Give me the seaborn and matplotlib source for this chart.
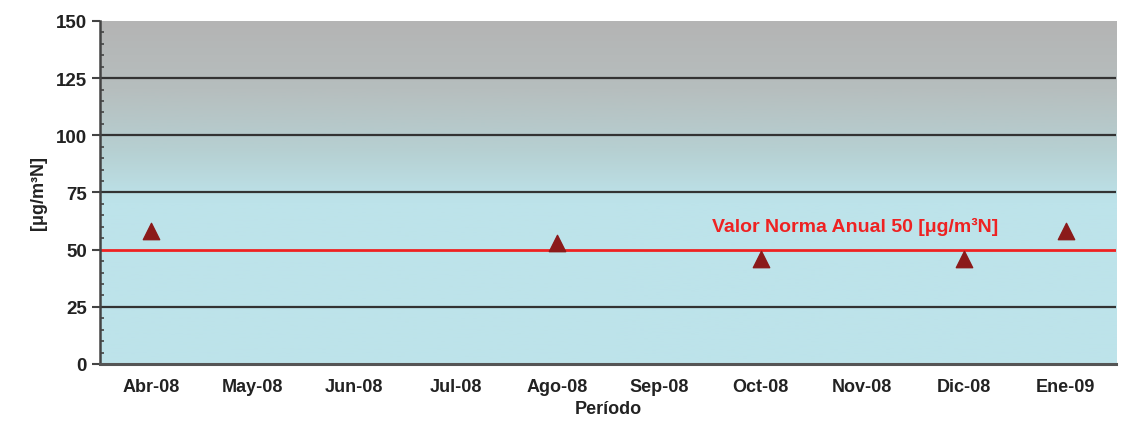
import numpy as np
import pandas as pd
import matplotlib
matplotlib.use("Agg")
import matplotlib.pyplot as plt
import seaborn as sns
from matplotlib.colors import LinearSegmentedColormap
from matplotlib.ticker import MultipleLocator

months = ["Abr-08", "May-08", "Jun-08", "Jul-08", "Ago-08", "Sep-08",
          "Oct-08", "Nov-08", "Dic-08", "Ene-09"]
values = [58, None, None, None, 53, None, 46, None, 46, 58]
norma = 50
yticks = [0, 25, 50, 75, 100, 125, 150]

sns.set_theme(style="white")
plt.rcParams['font.family'] = ['Liberation Sans', 'DejaVu Sans']

df = pd.DataFrame({"mes": months, "valor": values})
df["pos"] = np.arange(len(months))
df = df.dropna()

fig = plt.figure(figsize=(11.39, 4.39), dpi=100)
ax = fig.add_axes([0.0878, 0.1686, 0.8924, 0.7814])

n = len(months)
ax.set_xlim(-0.5, n - 0.5)
ax.set_ylim(0, 150)

# gradient background
cmap = LinearSegmentedColormap.from_list(
    "bg", [(0.0, "#bde3ea"), (0.47, "#bde3ea"), (0.62, "#b6d0d2"),
           (0.8, "#b6bebe"), (1.0, "#b4b4b4")])
grad = np.linspace(0, 1, 256).reshape(-1, 1)
ax.imshow(grad, extent=[-0.5, n - 0.5, 0, 150], origin="lower",
          aspect="auto", cmap=cmap, zorder=0)

for y in yticks[1:-1]:
    if y != norma:
        ax.axhline(y, color="#333333", lw=1.6, zorder=1)
ax.axhline(norma, color="#ee2222", lw=2.0, zorder=2)

sns.scatterplot(data=df, x="pos", y="valor", marker="^", s=140,
                color="#8b1a1a", edgecolor="#8b1a1a", ax=ax, zorder=3)

ax.text(6.93, 56.5, "Valor Norma Anual 50 [μg/m³N]", color="#ee2222",
        fontsize=14, fontweight="bold", ha="center", va="bottom")

ax.set_yticks(yticks)
ax.yaxis.set_minor_locator(MultipleLocator(5))
ax.set_yticklabels([str(t) for t in yticks], fontsize=13.5, fontweight="bold", color="#222222")
ax.set_xticks(np.arange(n))
ax.set_xticklabels(months, fontsize=13, fontweight="bold", color="#222222")
ax.set_xticks(np.arange(n + 1) - 0.5, minor=True)
ax.tick_params(axis="x", which="major", length=0, pad=10)
ax.tick_params(axis="x", which="minor", length=5, width=1.5, color="#444444", direction="out")
ax.tick_params(axis="y", which="major", length=6, width=1.5, color="#444444", direction="out", left=True)
ax.tick_params(axis="y", which="minor", length=3, width=1.2, color="#444444", direction="in", left=True)

for side in ["top", "right"]:
    ax.spines[side].set_visible(False)
ax.spines["left"].set_color("#444444")
ax.spines["left"].set_linewidth(1.8)
ax.spines["bottom"].set_color("#555555")
ax.spines["bottom"].set_linewidth(2.2)

ax.set_xlabel("Período", fontsize=13, fontweight="bold", color="#222222", labelpad=4)
ax.set_ylabel("[μg/m³N]", fontsize=13, fontweight="bold", color="#222222", labelpad=6)

fig.savefig("out.png", dpi=100, facecolor="white")
